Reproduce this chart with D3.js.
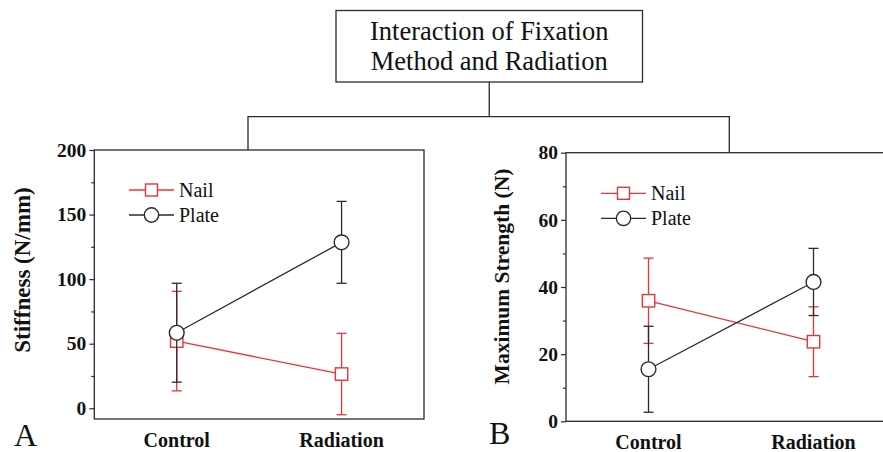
<!DOCTYPE html>
<html>
<head>
<meta charset="utf-8">
<script src="https://cdn.jsdelivr.net/npm/d3@7"></script>
<style>
  body { margin: 0; background: #fff; }
  svg { display: block; font-family: "Liberation Serif", "Times New Roman", serif; }
</style>
</head>
<body>
<svg width="883" height="452"></svg>
<script>
// data
var categories = ['Control', 'Radiation'];
var seriesNames = ['Nail', 'Plate'];

var stiffNail = [52, 26.5];
var stiffNailErr = [38.5, 31.5];
var stiffPlate = [58.5, 128.5];
var stiffPlateErr = [38.3, 31.7];
var stiffTicks = [0, 50, 100, 150, 200];

var strNail = [35.9, 23.7];
var strNailErr = [12.7, 10.4];
var strPlate = [15.5, 41.5];
var strPlateErr = [12.8, 10.0];
var strTicks = [0, 20, 40, 60, 80];

var titleLines = ['Interaction of Fixation', 'Method and Radiation'];

var red = '#e8343a';
var dark = '#2b2b2b';

var svg = d3.select('svg');

// title box + connector
var box = { x: 336, y: 10.5, w: 306.5, h: 71.5 };
svg.append('rect')
   .attr('x', box.x).attr('y', box.y)
   .attr('width', box.w).attr('height', box.h)
   .attr('fill', 'none').attr('stroke', dark).attr('stroke-width', 1.3);

svg.selectAll('.title').data(titleLines).enter().append('text')
   .attr('x', box.x + box.w / 2)
   .attr('y', (d, i) => 39.5 + i * 30.5)
   .attr('text-anchor', 'middle')
   .attr('font-size', 26.5)
   .attr('fill', '#111')
   .text(d => d);

var cx = box.x + box.w / 2;
svg.append('path')
   .attr('d', `M${cx},${box.y + box.h}V116.7M248,150V116.7H729.3V152.7`)
   .attr('fill', 'none').attr('stroke', dark).attr('stroke-width', 1.3);

function panel(opt) {
    var g = svg.append('g');
    var x = d3.scalePoint().domain(categories).range([opt.left, opt.left + opt.width]).padding(0.5);
    var y = d3.scaleLinear().domain(opt.domain).range([opt.bottom, opt.top]);

    // frame
    g.append('rect')
     .attr('x', opt.left).attr('y', opt.top)
     .attr('width', opt.width).attr('height', opt.bottom - opt.top)
     .attr('fill', 'none').attr('stroke', dark).attr('stroke-width', 1.3);

    // minor ticks
    var minor = [];
    for (var i = 0; i < opt.ticks.length - 1; i++) minor.push((opt.ticks[i] + opt.ticks[i + 1]) / 2);
    var minorAxis = g.append('g').attr('transform', `translate(${opt.left},0)`)
        .call(d3.axisLeft(y).tickValues(minor).tickSize(3).tickFormat(''));
    minorAxis.select('.domain').remove();
    minorAxis.selectAll('line').attr('stroke', dark).attr('stroke-width', 1.2);

    var axis = g.append('g').attr('transform', `translate(${opt.left},0)`)
        .call(d3.axisLeft(y).tickValues(opt.ticks).tickSize(5).tickPadding(3));
    axis.select('.domain').remove();
    axis.selectAll('line').attr('stroke', dark).attr('stroke-width', 1.2);
    axis.selectAll('text')
        .attr('font-family', '"Liberation Serif", serif')
        .attr('font-size', 19.5).attr('font-weight', 'bold').attr('fill', '#111');

    // category labels
    g.selectAll('.cat').data(categories).enter().append('text')
     .attr('x', d => x(d)).attr('y', opt.bottom + 28)
     .attr('text-anchor', 'middle')
     .attr('font-size', 20).attr('font-weight', 'bold').attr('fill', '#111')
     .text(d => d);

    // axis title
    g.append('text')
     .attr('transform', `translate(${opt.titleX},${opt.titleY}) rotate(-90)`)
     .attr('text-anchor', 'middle')
     .attr('dy', '0.35em')
     .attr('font-size', opt.titleSize).attr('font-weight', 'bold').attr('fill', '#111')
     .text(opt.title);

    // panel letter
    g.append('text')
     .attr('x', opt.letterX).attr('y', opt.letterY)
     .attr('font-size', 32).attr('fill', '#111')
     .text(opt.letter);

    var series = [
        { name: seriesNames[0], vals: opt.nail, err: opt.nailErr, color: red, shape: 'square' },
        { name: seriesNames[1], vals: opt.plate, err: opt.plateErr, color: dark, shape: 'circle' }
    ];

    series.forEach(s => {
        var pts = categories.map((c, i) => ({ c: c, v: s.vals[i], e: s.err[i] }));
        var sg = g.append('g');
        // error bars
        var eb = sg.selectAll('.eb').data(pts).enter().append('g');
        eb.append('line')
          .attr('x1', d => x(d.c)).attr('x2', d => x(d.c))
          .attr('y1', d => y(d.v - d.e)).attr('y2', d => y(d.v + d.e));
        eb.append('line')
          .attr('x1', d => x(d.c) - 5).attr('x2', d => x(d.c) + 5)
          .attr('y1', d => y(d.v + d.e)).attr('y2', d => y(d.v + d.e));
        eb.append('line')
          .attr('x1', d => x(d.c) - 5).attr('x2', d => x(d.c) + 5)
          .attr('y1', d => y(d.v - d.e)).attr('y2', d => y(d.v - d.e));
        eb.selectAll('line').attr('stroke', s.color).attr('stroke-width', 1.3);

        // connecting line
        sg.append('path')
          .attr('d', d3.line().x(d => x(d.c)).y(d => y(d.v))(pts))
          .attr('fill', 'none').attr('stroke', s.color).attr('stroke-width', 1.3);

        // markers
        var mk = sg.selectAll('.mk').data(pts).enter();
        if (s.shape === 'square') {
            mk.append('rect')
              .attr('x', d => x(d.c) - 6.2).attr('y', d => y(d.v) - 6.2)
              .attr('width', 12.4).attr('height', 12.4)
              .attr('fill', '#fff').attr('stroke', s.color).attr('stroke-width', 1.4);
        } else {
            mk.append('circle')
              .attr('cx', d => x(d.c)).attr('cy', d => y(d.v)).attr('r', 7.4)
              .attr('fill', '#fff').attr('stroke', s.color).attr('stroke-width', 1.4);
        }
    });

    // legend
    var lg = g.append('g').attr('transform', `translate(${opt.legX},${opt.legY})`);
    series.forEach((s, i) => {
        var row = lg.append('g').attr('transform', `translate(0,${i * 25})`);
        row.append('line').attr('x1', 0).attr('x2', 45).attr('y1', 0).attr('y2', 0)
           .attr('stroke', s.color).attr('stroke-width', 1.3);
        if (s.shape === 'square') {
            row.append('rect').attr('x', 22.5 - 6).attr('y', -6).attr('width', 12).attr('height', 12)
               .attr('fill', '#fff').attr('stroke', s.color).attr('stroke-width', 1.4);
        } else {
            row.append('circle').attr('cx', 22.5).attr('cy', 0).attr('r', 7.2)
               .attr('fill', '#fff').attr('stroke', s.color).attr('stroke-width', 1.4);
        }
        row.append('text').attr('x', 50).attr('dy', '0.33em')
           .attr('font-size', 20).attr('fill', '#111')
           .text(s.name);
    });
}

panel({
    left: 94.3, width: 329.7, top: 150, bottom: 419,
    domain: [-8.3, 200], ticks: stiffTicks,
    nail: stiffNail, nailErr: stiffNailErr, plate: stiffPlate, plateErr: stiffPlateErr,
    title: 'Stiffness (N/mm)', titleX: 22, titleY: 270, titleSize: 23,
    letter: 'A', letterX: 14, letterY: 446,
    legX: 129, legY: 190
});

panel({
    left: 566, width: 330, top: 152.7, bottom: 421.3,
    domain: [0, 80], ticks: strTicks,
    nail: strNail, nailErr: strNailErr, plate: strPlate, plateErr: strPlateErr,
    title: 'Maximum Strength (N)', titleX: 501.5, titleY: 276.5, titleSize: 21.5,
    letter: 'B', letterX: 489, letterY: 444,
    legX: 601, legY: 193.3
});
</script>
</body>
</html>
